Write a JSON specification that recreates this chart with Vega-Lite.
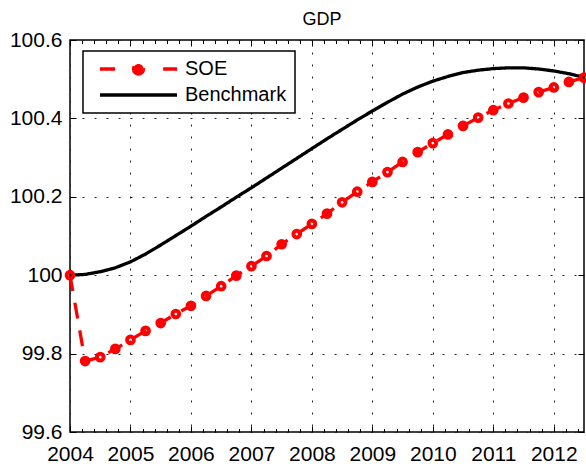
{
  "$schema": "https://vega.github.io/schema/vega-lite/v6.json",
  "width": 514,
  "height": 392,
  "autosize": "none",
  "padding": {"left": 70, "top": 40, "right": 2, "bottom": 37},
  "background": "white",
  "title": {"text": "GDP", "fontSize": 18, "font": "Liberation Sans", "fontWeight": "normal", "offset": 6, "dy": 20, "baseline": "alphabetic", "frame": "group", "dx": -5, "color": "black"},
  "config": {
    "view": {"stroke": "black", "strokeWidth": 1.5},
    "axis": {"labelFont": "Liberation Sans", "labelFontSize": 21, "labelColor": "black", "tickColor": "black", "tickWidth": 1, "domain": false, "title": null, "labelFlush": false, "labelOverlap": false}
  },
  "data": {"values": [
    {"year": 2004.00, "value": 100.000, "series": "SOE"},
    {"year": 2004.25, "value": 99.781, "series": "SOE"},
    {"year": 2004.50, "value": 99.791, "series": "SOE"},
    {"year": 2004.75, "value": 99.812, "series": "SOE"},
    {"year": 2005.00, "value": 99.835, "series": "SOE"},
    {"year": 2005.25, "value": 99.858, "series": "SOE"},
    {"year": 2005.50, "value": 99.878, "series": "SOE"},
    {"year": 2005.75, "value": 99.901, "series": "SOE"},
    {"year": 2006.00, "value": 99.922, "series": "SOE"},
    {"year": 2006.25, "value": 99.947, "series": "SOE"},
    {"year": 2006.50, "value": 99.972, "series": "SOE"},
    {"year": 2006.75, "value": 99.999, "series": "SOE"},
    {"year": 2007.00, "value": 100.023, "series": "SOE"},
    {"year": 2007.25, "value": 100.049, "series": "SOE"},
    {"year": 2007.50, "value": 100.079, "series": "SOE"},
    {"year": 2007.75, "value": 100.105, "series": "SOE"},
    {"year": 2008.00, "value": 100.131, "series": "SOE"},
    {"year": 2008.25, "value": 100.157, "series": "SOE"},
    {"year": 2008.50, "value": 100.186, "series": "SOE"},
    {"year": 2008.75, "value": 100.213, "series": "SOE"},
    {"year": 2009.00, "value": 100.238, "series": "SOE"},
    {"year": 2009.25, "value": 100.263, "series": "SOE"},
    {"year": 2009.50, "value": 100.289, "series": "SOE"},
    {"year": 2009.75, "value": 100.314, "series": "SOE"},
    {"year": 2010.00, "value": 100.337, "series": "SOE"},
    {"year": 2010.25, "value": 100.359, "series": "SOE"},
    {"year": 2010.50, "value": 100.381, "series": "SOE"},
    {"year": 2010.75, "value": 100.402, "series": "SOE"},
    {"year": 2011.00, "value": 100.421, "series": "SOE"},
    {"year": 2011.25, "value": 100.438, "series": "SOE"},
    {"year": 2011.50, "value": 100.453, "series": "SOE"},
    {"year": 2011.75, "value": 100.467, "series": "SOE"},
    {"year": 2012.00, "value": 100.479, "series": "SOE"},
    {"year": 2012.25, "value": 100.493, "series": "SOE"},
    {"year": 2012.50, "value": 100.504, "series": "SOE"},
    {"year": 2004.00, "value": 100.000, "series": "Benchmark"},
    {"year": 2004.25, "value": 100.002, "series": "Benchmark"},
    {"year": 2004.50, "value": 100.009, "series": "Benchmark"},
    {"year": 2004.75, "value": 100.019, "series": "Benchmark"},
    {"year": 2005.00, "value": 100.034, "series": "Benchmark"},
    {"year": 2005.25, "value": 100.054, "series": "Benchmark"},
    {"year": 2005.50, "value": 100.077, "series": "Benchmark"},
    {"year": 2005.75, "value": 100.101, "series": "Benchmark"},
    {"year": 2006.00, "value": 100.125, "series": "Benchmark"},
    {"year": 2006.25, "value": 100.150, "series": "Benchmark"},
    {"year": 2006.50, "value": 100.174, "series": "Benchmark"},
    {"year": 2006.75, "value": 100.199, "series": "Benchmark"},
    {"year": 2007.00, "value": 100.223, "series": "Benchmark"},
    {"year": 2007.25, "value": 100.248, "series": "Benchmark"},
    {"year": 2007.50, "value": 100.273, "series": "Benchmark"},
    {"year": 2007.75, "value": 100.298, "series": "Benchmark"},
    {"year": 2008.00, "value": 100.323, "series": "Benchmark"},
    {"year": 2008.25, "value": 100.348, "series": "Benchmark"},
    {"year": 2008.50, "value": 100.372, "series": "Benchmark"},
    {"year": 2008.75, "value": 100.396, "series": "Benchmark"},
    {"year": 2009.00, "value": 100.419, "series": "Benchmark"},
    {"year": 2009.25, "value": 100.441, "series": "Benchmark"},
    {"year": 2009.50, "value": 100.462, "series": "Benchmark"},
    {"year": 2009.75, "value": 100.480, "series": "Benchmark"},
    {"year": 2010.00, "value": 100.495, "series": "Benchmark"},
    {"year": 2010.25, "value": 100.507, "series": "Benchmark"},
    {"year": 2010.50, "value": 100.517, "series": "Benchmark"},
    {"year": 2010.75, "value": 100.523, "series": "Benchmark"},
    {"year": 2011.00, "value": 100.527, "series": "Benchmark"},
    {"year": 2011.25, "value": 100.529, "series": "Benchmark"},
    {"year": 2011.50, "value": 100.529, "series": "Benchmark"},
    {"year": 2011.75, "value": 100.526, "series": "Benchmark"},
    {"year": 2012.00, "value": 100.521, "series": "Benchmark"},
    {"year": 2012.25, "value": 100.514, "series": "Benchmark"},
    {"year": 2012.50, "value": 100.505, "series": "Benchmark"}
  ]},
  "resolve": {"axis": {"x": "independent", "y": "independent"}},
  "layer": [
    {
      "mark": {"type": "line", "strokeWidth": 3.3, "interpolate": "linear", "strokeJoin": "round"},
      "encoding": {
        "x": {"field": "year", "type": "quantitative",
          "scale": {"domain": [2004, 2012.5], "nice": false, "zero": false},
          "axis": {"orient": "bottom",
            "values": [2004, 2004.2, 2004.4, 2004.6, 2004.8, 2005, 2005.2, 2005.4, 2005.6, 2005.8, 2006, 2006.2, 2006.4, 2006.6, 2006.8, 2007, 2007.2, 2007.4, 2007.6, 2007.8, 2008, 2008.2, 2008.4, 2008.6, 2008.8, 2009, 2009.2, 2009.4, 2009.6, 2009.8, 2010, 2010.2, 2010.4, 2010.6, 2010.8, 2011, 2011.2, 2011.4, 2011.6, 2011.8, 2012, 2012.2, 2012.4],
            "labelExpr": "datum.value % 1 === 0 ? format(datum.value, 'd') : ''",
            "tickSize": {"condition": {"test": "datum.value % 1 === 0", "value": -6}, "value": -3.5},
            "grid": true, "gridDash": [2, 10], "gridColor": "#222", "gridWidth": 1,
            "gridOpacity": {"condition": {"test": "datum.value % 1 === 0", "value": 1}, "value": 0},
            "labelPadding": 17}},
        "y": {"field": "value", "type": "quantitative",
          "scale": {"domain": [99.6, 100.6], "nice": false, "zero": false},
          "axis": {"orient": "left", "values": [99.6, 99.8, 100, 100.2, 100.4, 100.6], "format": "~g",
            "tickSize": -6, "grid": true, "gridDash": [2, 10], "gridColor": "#222", "gridWidth": 1, "labelPadding": 14}},
        "color": {"field": "series", "type": "nominal",
          "scale": {"domain": ["SOE", "Benchmark"], "range": ["#ff0000", "#000000"]},
          "legend": {"title": null, "orient": "none", "legendX": 13, "legendY": 11,
            "symbolSize": 5929, "symbolStrokeWidth": 3.3, "symbolOffset": 7,
            "labelFont": "Liberation Sans", "labelFontSize": 20, "labelColor": "black",
            "labelOffset": 6, "padding": 8, "rowPadding": 6, "clipHeight": 20,
            "strokeColor": "black", "fillColor": "white",
            "encode": {"symbols": {"update": {
              "shape": {"signal": "datum.value === 'SOE' ? 'M-1,0H-0.61M0.64,0H1M-0.13,0A0.13,0.13,0,1,0,0.13,0A0.13,0.13,0,1,0,-0.13,0' : 'M-1,0H1'"},
              "fill": {"signal": "datum.value === 'SOE' ? '#ff0000' : 'transparent'"},
              "strokeDash": {"value": []}}},
              "legend": {"update": {"strokeWidth": {"value": 1.5}}}}}},
        "strokeDash": {"field": "series", "type": "nominal",
          "scale": {"domain": ["SOE", "Benchmark"], "range": [[16, 12], [1, 0]]},
          "legend": null}
      }
    },
    {
      "transform": [{"filter": "datum.series === 'SOE'"}],
      "mark": {"type": "point", "filled": false, "color": "#ff0000", "strokeWidth": 4, "size": 45, "opacity": 1},
      "encoding": {
        "x": {"field": "year", "type": "quantitative",
          "axis": {"orient": "top", "labels": false, "grid": false, "minExtent": 0, "maxExtent": 0,
            "values": [2004, 2004.2, 2004.4, 2004.6, 2004.8, 2005, 2005.2, 2005.4, 2005.6, 2005.8, 2006, 2006.2, 2006.4, 2006.6, 2006.8, 2007, 2007.2, 2007.4, 2007.6, 2007.8, 2008, 2008.2, 2008.4, 2008.6, 2008.8, 2009, 2009.2, 2009.4, 2009.6, 2009.8, 2010, 2010.2, 2010.4, 2010.6, 2010.8, 2011, 2011.2, 2011.4, 2011.6, 2011.8, 2012, 2012.2, 2012.4],
            "tickSize": {"condition": {"test": "datum.value % 1 === 0", "value": -6}, "value": -3.5}}},
        "y": {"field": "value", "type": "quantitative",
          "axis": {"orient": "right", "labels": false, "grid": false, "minExtent": 0, "maxExtent": 0, "values": [99.6, 99.8, 100, 100.2, 100.4, 100.6], "tickSize": -6}}
      }
    }
  ]
}
